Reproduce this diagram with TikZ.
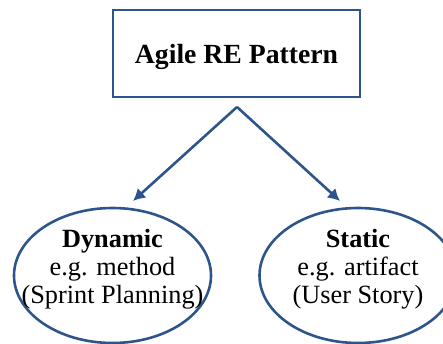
\documentclass[tikz,border=0pt]{standalone}
\usepackage{fontspec}
\setmainfont{Liberation Serif}
\usetikzlibrary{%
	arrows.meta,%
	shapes.geometric
}
\definecolor{reblue}{RGB}{46,84,140}
\tikzstyle{line}=[draw=reblue, line width=2.6pt]
\tikzstyle{titlebox}=[line, rectangle, minimum width=247pt, minimum height=87pt, inner sep=0pt, text depth=0pt, font=\fontsize{27.7}{30}\selectfont\bfseries]
\tikzstyle{oval}=[line, ellipse, minimum width=197pt, minimum height=135pt, inner sep=0pt]
\tikzstyle{ovaltext}=[align=center, inner sep=0pt, font=\fontsize{26.3}{28}\selectfont]

\begin{document}
\begin{tikzpicture}[x=1pt, y=-1pt, line join=miter]
		\useasboundingbox (0,0) rectangle (443,344);
		\node[titlebox] (pattern) at (236.5,53.5) {Agile RE Pattern};
		\coordinate (split) at (237,107);
		\coordinate (dynTip) at (133,201);
		\coordinate (statTip) at (340,201);
		
		\node[oval] (dynamic) at (112.5,275.5) {};
		\node[oval] (static) at (358,275.5) {};
		\node[ovaltext] at ([yshift=6.5pt]dynamic.center) {\textbf{Dynamic}\\e.g. method\\(Sprint Planning)};
		\node[ovaltext] at ([yshift=6.5pt]static.center) {\textbf{Static}\\e.g. artifact\\(User Story)};
		
		% Arrows to both kinds
	\foreach \tip in {dynTip,statTip}
	\draw[line, -{Latex[length=12pt,width=13pt]}] (split) -- (\tip);
	\end{tikzpicture}
\end{document}
